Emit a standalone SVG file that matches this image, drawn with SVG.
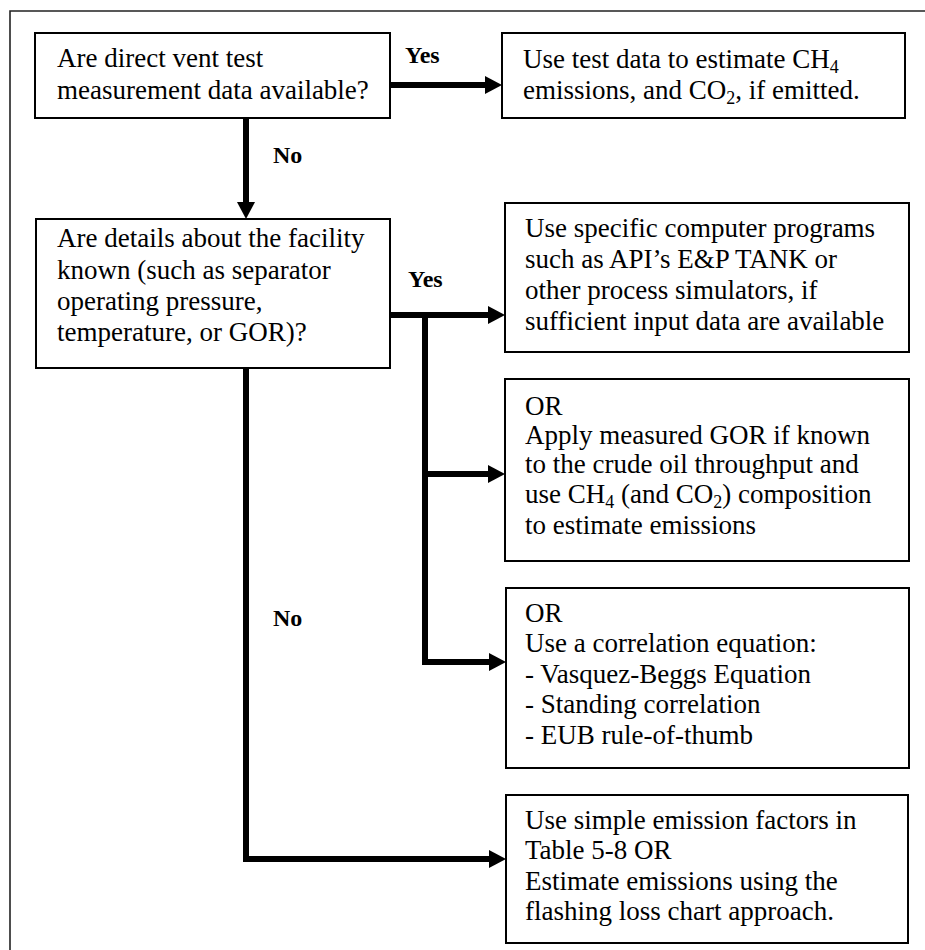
<svg xmlns="http://www.w3.org/2000/svg" width="925" height="950" viewBox="0 0 925 950">
  <style>
    .box { fill: #ffffff; stroke: #000000; stroke-width: 2; }
    .frame { fill: none; stroke: #222222; stroke-width: 1.6; }
    .txt { font-family: "Liberation Serif", "Times New Roman", serif; font-size: 27px; fill: #000000; }
    .lbl { font-family: "Liberation Serif", "Times New Roman", serif; font-size: 24px; font-weight: bold; fill: #000000; }
    .sub { font-size: 18px; }
    .conn { fill: none; stroke: #000000; stroke-width: 6; stroke-linejoin: miter; stroke-linecap: butt; }
  </style>
  <defs>
    <marker id="arrow" markerUnits="userSpaceOnUse" markerWidth="18" markerHeight="18" refX="5" refY="9" orient="auto">
      <path d="M0,0 L17,9 L0,18 Z" fill="#000000"/>
    </marker>
  </defs>

  <rect width="925" height="950" fill="#ffffff"/>
  <!-- page frame, open to the right and bottom -->
  <path class="frame" d="M10,950 V11 H925"/>

  <!-- connectors -->
  <g id="connectors">
    <path class="conn" d="M390,85 H490" marker-end="url(#arrow)"/>
    <path class="conn" d="M246,118 V207" marker-end="url(#arrow)"/>
    <path class="conn" d="M390,315 H493" marker-end="url(#arrow)"/>
    <path class="conn" d="M425,312 V662 H494" marker-end="url(#arrow)"/>
    <path class="conn" d="M425,474 H493" marker-end="url(#arrow)"/>
    <path class="conn" d="M246,368 V859 H494" marker-end="url(#arrow)"/>
    <text class="lbl" x="405" y="63">Yes</text>
    <text class="lbl" x="273" y="163">No</text>
    <text class="lbl" x="408" y="287">Yes</text>
    <text class="lbl" x="273" y="626">No</text>
  </g>

  <g id="q-vent-data">
    <rect class="box" x="35" y="33" width="355" height="85"/>
    <text class="txt" x="57" y="67">Are direct vent test</text>
    <text class="txt" x="57" y="99">measurement data available?</text>
  </g>

  <g id="use-test-data">
    <rect class="box" x="502" y="33" width="403" height="85"/>
    <text class="txt" x="523" y="68">Use test data to estimate CH<tspan class="sub" dy="5">4</tspan></text>
    <text class="txt" x="523" y="99">emissions, and CO<tspan class="sub" dy="5">2</tspan><tspan dy="-5">, if emitted.</tspan></text>
  </g>

  <g id="q-facility-details">
    <rect class="box" x="36" y="219" width="354" height="149"/>
    <text class="txt" x="57" y="247">Are details about the facility</text>
    <text class="txt" x="57" y="279">known (such as separator</text>
    <text class="txt" x="57" y="310">operating pressure,</text>
    <text class="txt" x="57" y="341">temperature, or GOR)?</text>
  </g>

  <g id="computer-programs">
    <rect class="box" x="505" y="203" width="404" height="149"/>
    <text class="txt" x="525" y="237">Use specific computer programs</text>
    <text class="txt" x="525" y="268">such as API’s E&amp;P TANK or</text>
    <text class="txt" x="525" y="299">other process simulators, if</text>
    <text class="txt" x="525" y="330">sufficient input data are available</text>
  </g>

  <g id="measured-gor">
    <rect class="box" x="505" y="379" width="404" height="182"/>
    <text class="txt" x="525" y="415">OR</text>
    <text class="txt" x="525" y="444">Apply measured GOR if known</text>
    <text class="txt" x="525" y="473">to the crude oil throughput and</text>
    <text class="txt" x="525" y="503">use CH<tspan class="sub" dy="5">4</tspan><tspan dy="-5"> (and CO</tspan><tspan class="sub" dy="5">2</tspan><tspan dy="-5">) composition</tspan></text>
    <text class="txt" x="525" y="534">to estimate emissions</text>
  </g>

  <g id="correlation-equation">
    <rect class="box" x="506" y="588" width="403" height="180"/>
    <text class="txt" x="525" y="622">OR</text>
    <text class="txt" x="525" y="652">Use a correlation equation:</text>
    <text class="txt" x="525" y="683">- Vasquez-Beggs Equation</text>
    <text class="txt" x="525" y="713">- Standing correlation</text>
    <text class="txt" x="525" y="744">- EUB rule-of-thumb</text>
  </g>

  <g id="emission-factors">
    <rect class="box" x="506" y="795" width="402" height="148"/>
    <text class="txt" x="525" y="829">Use simple emission factors in</text>
    <text class="txt" x="525" y="859">Table 5-8 OR</text>
    <text class="txt" x="525" y="890">Estimate emissions using the</text>
    <text class="txt" x="525" y="920">flashing loss chart approach.</text>
  </g>
</svg>
